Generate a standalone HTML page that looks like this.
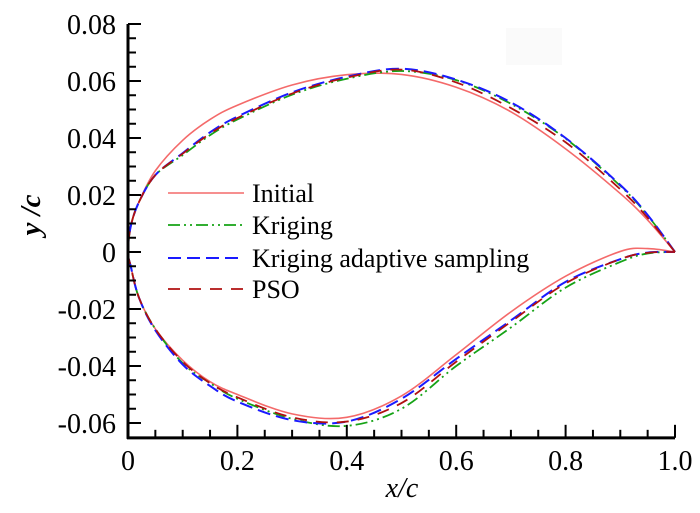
<!DOCTYPE html>
<html><head><meta charset="utf-8"><style>
html,body{margin:0;padding:0;background:#fff;}
svg{display:block;font-family:"Liberation Serif",serif;}
</style></head><body>
<svg id="chart" width="700" height="513" viewBox="0 0 700 513">
<rect x="506" y="28" width="56" height="37" fill="#fafafa"/>
<g id="series"></g>
<g id="axes"></g>
<g id="legend"></g>
<text x="40" y="215" font-size="29" font-style="italic" font-weight="bold" text-anchor="middle" transform="rotate(-90 40 215)">y /c</text>
<text x="402" y="497" font-size="28" font-style="italic" text-anchor="middle">x/c</text>
</svg>
<script>
const xs = [0,0.005,0.02,0.05,0.1,0.15,0.2,0.3,0.4,0.5,0.6,0.7,0.8,0.9,0.95,1.0];
const initialUpper = [0,0.009,0.0175,0.0285,0.0392,0.0465,0.0515,0.0586,0.0622,0.0623,0.0578,0.0492,0.0362,0.0205,0.0112,0];
const initialLower = [0,-0.005,-0.016,-0.027,-0.038,-0.0455,-0.050,-0.0568,-0.058,-0.0505,-0.036,-0.021,-0.0085,0.0002,0.0012,0];
const krigingUpper = [0,0.009,0.0175,0.027,0.034,0.041,0.0465,0.0552,0.0608,0.0635,0.0603,0.052,0.0398,0.0232,0.0128,0];
const krigingLower = [0,-0.005,-0.016,-0.027,-0.039,-0.046,-0.0515,-0.0585,-0.061,-0.055,-0.040,-0.0265,-0.0125,-0.0035,-0.0005,0];
const adaptiveUpper = [0,0.009,0.0175,0.027,0.0347,0.042,0.0475,0.056,0.0615,0.0643,0.0605,0.0525,0.040,0.0235,0.013,0];
const adaptiveLower = [0,-0.005,-0.016,-0.0275,-0.0395,-0.047,-0.0525,-0.059,-0.0595,-0.0515,-0.0375,-0.024,-0.0105,-0.0025,-0.0002,0];
const psoUpper = [0,0.009,0.0175,0.027,0.0345,0.0415,0.047,0.0556,0.0612,0.064,0.0595,0.0505,0.0385,0.022,0.012,0];
const psoLower = [0,-0.005,-0.016,-0.027,-0.0385,-0.046,-0.051,-0.058,-0.0595,-0.053,-0.0385,-0.0245,-0.011,-0.0025,-0.0003,0];
const seriesNames = ["Initial","Kriging","Kriging adaptive sampling","PSO"];
const xTickVals = [0,0.2,0.4,0.6,0.8,1.0];
const xTickLabels = ["0","0.2","0.4","0.6","0.8","1.0"];
const yTickVals = [0.08,0.06,0.04,0.02,0,-0.02,-0.04,-0.06];
const yTickLabels = ["0.08","0.06","0.04","0.02","0","-0.02","-0.04","-0.06"];

const NS="http://www.w3.org/2000/svg";
const X0=128, XS=547, Y0=252, YS=2850;
const sx=v=>X0+v*XS, sy=v=>Y0-v*YS;
const yMin=-0.0652, yMax=0.08;
function mk(tag,attrs,parent){const e=document.createElementNS(NS,tag);for(const k in attrs)e.setAttribute(k,attrs[k]);parent.appendChild(e);return e;}
function smooth(pts){
  let d="M"+pts[0][0].toFixed(2)+","+pts[0][1].toFixed(2);
  for(let i=0;i<pts.length-1;i++){
    const p0=pts[i-1]||pts[i],p1=pts[i],p2=pts[i+1],p3=pts[i+2]||pts[i+1];
    const c1=[p1[0]+(p2[0]-p0[0])/6,p1[1]+(p2[1]-p0[1])/6];
    const c2=[p2[0]-(p3[0]-p1[0])/6,p2[1]-(p3[1]-p1[1])/6];
    d+=" C"+c1[0].toFixed(2)+","+c1[1].toFixed(2)+" "+c2[0].toFixed(2)+","+c2[1].toFixed(2)+" "+p2[0].toFixed(2)+","+p2[1].toFixed(2);
  }
  return d;
}
const styles=[
 {c:"#f46a6a",dash:"",w:1.6},
 {c:"#16a316",dash:"12 4 2 4 2 4",w:1.8},
 {c:"#1a1aff",dash:"13 6",w:2},
 {c:"#b01010",dash:"12 9",w:1.8}];
const data=[[initialUpper,initialLower],[krigingUpper,krigingLower],[adaptiveUpper,adaptiveLower],[psoUpper,psoLower]];
const sg=document.getElementById("series");
const seriesKeys=["initial","kriging","kriging-adaptive","pso"];
data.forEach((s,i)=>{
  const pts=[];
  for(let j=xs.length-1;j>=0;j--)pts.push([sx(xs[j]),sy(s[0][j])]);
  for(let j=1;j<xs.length;j++)pts.push([sx(xs[j]),sy(s[1][j])]);
  const p=mk("path",{d:smooth(pts),fill:"none",stroke:styles[i].c,"stroke-width":styles[i].w,"stroke-dasharray":styles[i].dash},sg);
  
  
});
const ag=document.getElementById("axes");
const yl=mk("line",{x1:X0,y1:sy(yMax),x2:X0,y2:sy(yMin)+1,stroke:"#000","stroke-width":3},ag);


const xl=mk("line",{x1:X0-1,y1:sy(yMin),x2:sx(1),y2:sy(yMin),stroke:"#000","stroke-width":3},ag);


for(let k=0;k<=20;k++){const v=k*0.05;const major=k%4===0;
  const t=mk("line",{x1:sx(v),y1:sy(yMin),x2:sx(v),y2:sy(yMin)-(major?13:8),stroke:"#000","stroke-width":2},ag);
  
  }
for(let k=0;k<=28;k++){const v=0.08-k*0.005;const major=k%4===0;
  const t=mk("line",{x1:X0,y1:sy(v),x2:X0+(major?13:8),y2:sy(v),stroke:"#000","stroke-width":2},ag);
  
  }
xTickVals.forEach((v,i)=>{const t=mk("text",{x:sx(v),y:470,"font-size":28,"text-anchor":"middle"},ag);t.textContent=xTickLabels[i];
  
  });
yTickVals.forEach((v,i)=>{const t=mk("text",{x:116,y:sy(v)+10,"font-size":28,"text-anchor":"end"},ag);t.textContent=yTickLabels[i];
  
  });
const lg=document.getElementById("legend");
const ly=[193,225,258,289];
seriesNames.forEach((n,i)=>{
  const l=mk("line",{x1:168,y1:ly[i],x2:244,y2:ly[i],stroke:styles[i].c,"stroke-width":styles[i].w,"stroke-dasharray":styles[i].dash},lg);
  
  
  const t=mk("text",{x:252,y:ly[i]+9,"font-size":26},lg);t.textContent=n;
  
  
});
</script>
</body></html>
